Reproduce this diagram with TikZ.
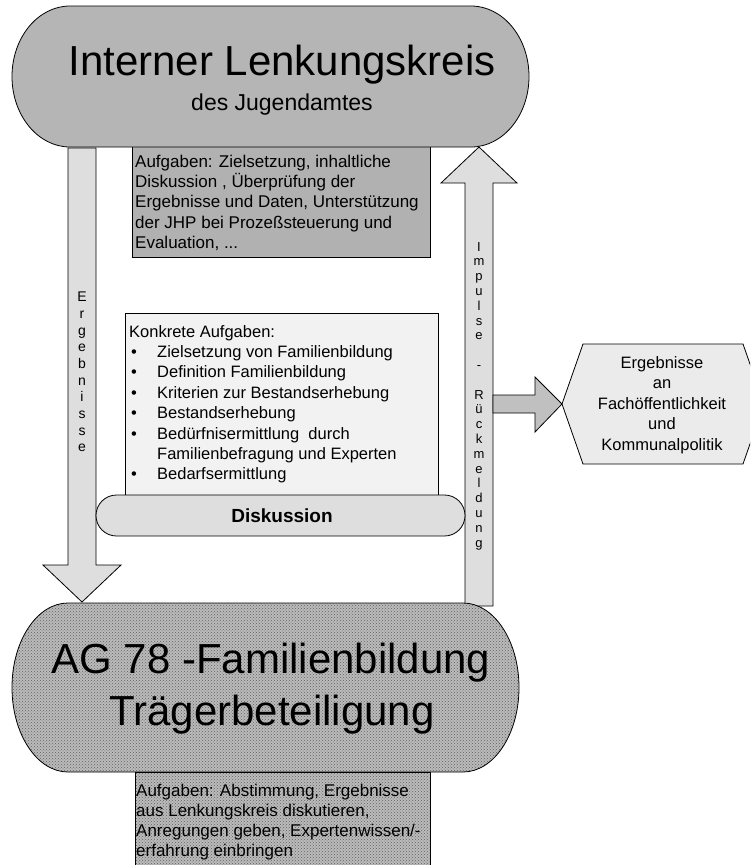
\documentclass[tikz,border=0pt]{standalone}
\usepackage{fontspec}
\setmainfont{Liberation Sans}
\usetikzlibrary{patterns}
\definecolor{topfill}{HTML}{B5B5B5}
\definecolor{boxfill}{HTML}{B1B1B1}
\definecolor{arrowfill}{HTML}{DEDEDE}
\definecolor{konkfill}{HTML}{F2F2F2}
\definecolor{hexfill}{HTML}{EBEBEB}
\definecolor{rarrowfill}{HTML}{C0C0C0}
\definecolor{dotbase}{HTML}{BBBBBB}
\definecolor{dotcol}{HTML}{606060}
\newcommand\kbul{\makebox[28pt][l]{\hspace{2pt}\textbullet}}
\begin{document}
\begin{tikzpicture}[x=1pt,y=-1pt,
  outl/.style={draw=black, line width=0.8pt},
  dotted fill/.style={preaction={fill=dotbase}, pattern=crosshatch dots, pattern color=dotcol},
  txt/.style={inner sep=0pt, align=left},
]
\useasboundingbox (0,0) rectangle (750,865);
\clip (0,0) rectangle (750,865);

% ---- top task box (behind stadium)
\draw[outl, fill=boxfill] (132,140) rectangle (430,257);

% ---- down arrow "Ergebnisse"
\coordinate (dtop) at (82,148);
\coordinate (dtip) at (82,602);
\draw[outl, fill=arrowfill] (68,148) -- (96,148) -- (96,565) -- (121,565) -- (dtip) -- (43,565) -- (68,565) -- cycle;

% ---- up arrow "Impulse - Rueckmeldung"
\coordinate (utip) at (479,147);
\draw[outl, fill=arrowfill] (465,606) -- (465,183) -- (441,183) -- (utip) -- (517,183) -- (493,183) -- (493,606) -- cycle;

% ---- top stadium
\draw[outl, fill=topfill] (70,6) -- (471,6) arc[start angle=-90, end angle=90, x radius=58, y radius=70.5] -- (70,147) arc[start angle=90, end angle=270, x radius=58, y radius=70.5] -- cycle;

% ---- Konkrete Aufgaben box
\draw[outl, fill=konkfill] (125,313) rectangle (438,505);

% ---- Diskussion bar
\draw[outl, fill=arrowfill, rounded corners=20.5pt] (96,495) rectangle (465,536);

% ---- right arrow
\coordinate (rtip) at (562,404);
\draw[outl, fill=rarrowfill] (493,395) -- (535,395) -- (535,377) -- (rtip) -- (535,432) -- (535,413) -- (493,413) -- cycle;

% ---- hexagon
\draw[outl, fill=hexfill] (583,344) -- (743,344) -- (764,404) -- (743,464) -- (583,464) -- (562,404) -- cycle;

% ---- bottom stadium
\path[dotted fill] (68,603) -- (463,603) arc[start angle=-90, end angle=90, x radius=56, y radius=84.5] -- (68,772) arc[start angle=90, end angle=270, x radius=56, y radius=84.5] -- cycle;
\draw[outl] (68,603) -- (463,603) arc[start angle=-90, end angle=90, x radius=56, y radius=84.5] -- (68,772) arc[start angle=90, end angle=270, x radius=56, y radius=84.5] -- cycle;

% ---- bottom task box
\path[dotted fill] (135,772) rectangle (430,880);
\draw[outl] (135,880) -- (135,772) -- (430,772) -- (430,880);

% ---- texts
\node[anchor=base, inner sep=0pt, font=\fontsize{42}{48}\selectfont] (lenk) at (282,75) {Interner Lenkungskreis};
\node[anchor=base, inner sep=0pt, font=\fontsize{23}{27}\selectfont] (jugend) at (282,110) {des Jugendamtes};

\node[txt, anchor=north west, font=\fontsize{17}{20.3}\selectfont] (aufgtop) at (135,154.6)
  {Aufgaben: Zielsetzung, inhaltliche\\Diskussion , Überprüfung der\\Ergebnisse und Daten, Unterstützung\\der JHP bei Prozeßsteuerung und\\Evaluation, ...};

\node[inner sep=0pt, align=center, font=\fontsize{14}{16.7}\selectfont] (erg) at (82,372)
  {E\\r\\g\\e\\b\\n\\i\\s\\s\\e};

\node[inner sep=0pt, align=center, font=\fontsize{13}{14.8}\selectfont] (imp) at (479,396)
  {I\\m\\p\\u\\l\\s\\e\\[14.8pt]-\\[14.8pt]R\\ü\\c\\k\\m\\e\\l\\d\\u\\n\\g};

\node[txt, anchor=north west, font=\fontsize{16.5}{20.4}\selectfont] (konk) at (129,325)
  {Konkrete Aufgaben:\\
   \kbul Zielsetzung von Familienbildung\\
   \kbul Definition Familienbildung\\
   \kbul Kriterien zur Bestandserhebung\\
   \kbul Bestandserhebung\\
   \kbul Bedürfnisermittlung\ \ durch\\
   \hspace*{28pt}Familienbefragung und Experten\\
   \kbul Bedarfsermittlung};

\node[inner sep=0pt, font=\bfseries\fontsize{19}{22}\selectfont] (disk) at (282,515.5) {Diskussion};

\node[inner sep=0pt, align=center, font=\fontsize{16.5}{20.5}\selectfont] (hext) at (662,405)
  {Ergebnisse\\an\\Fachöffentlichkeit\\und\\Kommunalpolitik};

\node[anchor=base, inner sep=0pt, font=\fontsize{42}{48}\selectfont] (ag) at (271,673) {AG 78 -Familienbildung};
\node[anchor=base, inner sep=0pt, font=\fontsize{42}{48}\selectfont] (traeger) at (272,725) {Trägerbeteiligung};

\node[txt, anchor=north west, font=\fontsize{17}{20}\selectfont] (aufgbot) at (136,783.6)
  {Aufgaben: Abstimmung, Ergebnisse\\aus Lenkungskreis diskutieren,\\Anregungen geben, Expertenwissen/-\\erfahrung einbringen};
\end{tikzpicture}
\end{document}
